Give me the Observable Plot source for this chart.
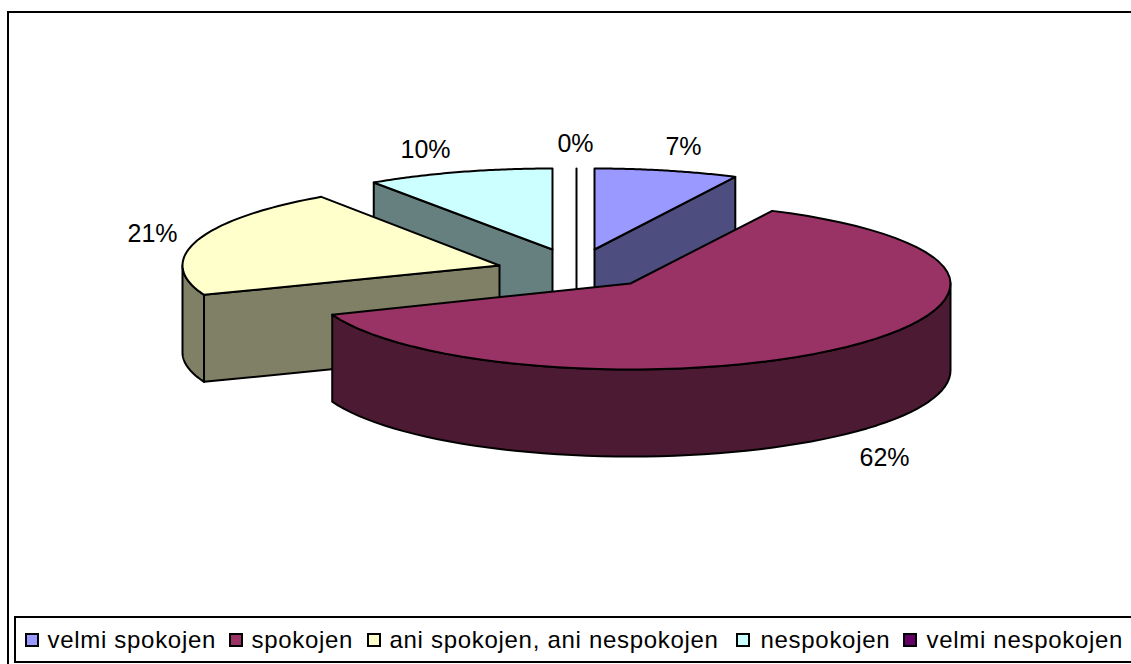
<!DOCTYPE html>
<html><head><meta charset="utf-8">
<script src="https://cdn.jsdelivr.net/npm/d3@7"></script>
<script src="https://cdn.jsdelivr.net/npm/@observablehq/plot@0.6"></script>
<style>
html,body{margin:0;padding:0;background:#fff;overflow:hidden}
svg{display:block}
</style></head><body>
<div id="chart"></div>
<script>
const categories = ["velmi spokojen","spokojen","ani spokojen, ani nespokojen","nespokojen","velmi nespokojen"];
const values = [7.3,61.8,21.4,9.5,0];
const topColors = ["#9999FF","#993366","#FFFFCC","#CCFFFF","#660066"];
const sideColors = ["#4D4D80","#4D1A33","#808066","#668080","#330033"];

// layout of the drawing, in picture pixels
const centers = [[594,249],[630,283],[499,265],[552,249],[576,249]];
const rx = [318,320,317,318,318], ryBack = [81,81,83,81,81], ryFront = [81,86,81,81,81], depth = 87;
const labelAt = [[683,146],[884,457],[152,233],[425,149],[575,143]];
const swatchX = [26,230,368,737,904];
const legendTextX = [47,251,389,760,926];

const total = d3.sum(values);
let acc = 0;
const spans = values.map(v => { const a0 = acc; acc += v / total * 360; return [a0, acc]; });
const pt = (i, deg, dy = 0) => {
  const t = deg * Math.PI / 180, c = Math.cos(t);
  const [cx, cy] = centers[i];
  return {x: cx + rx[i] * Math.sin(t), y: cy - (c > 0 ? ryBack[i] : ryFront[i]) * c + dy};
};
const arc = (i, a0, a1, dy = 0) => d3.range(0, 61).map(k => pt(i, a0 + (a1 - a0) * k / 60, dy));
const apex = (i, dy = 0) => ({x: centers[i][0], y: centers[i][1] + dy});
const close = p => [...p, p[0]];
const topFace = i => close([apex(i), ...arc(i, spans[i][0], spans[i][1])]);
const cutFace = (i, deg) => close([apex(i), pt(i, deg), pt(i, deg, depth), apex(i, depth)]);
const wall = (i, a0, a1) => close([...arc(i, a0, a1), ...arc(i, a0, a1, depth).reverse()]);

const face = (points, fill) => Plot.line(points, {x: "x", y: "y", fill, stroke: "#000", strokeWidth: 2, strokeLinejoin: "round"});

const [small, main, third, fourth, zero] = [0, 1, 2, 3, 4];
const marks = [
  // outer frame and legend box
  Plot.rect([{x1: 8, x2: 1140, y1: 12, y2: 680}], {x1: "x1", x2: "x2", y1: "y1", y2: "y2", fill: "#fff", stroke: "#000", strokeWidth: 2}),
  Plot.rect([{x1: 15, x2: 1140, y1: 617, y2: 662}], {x1: "x1", x2: "x2", y1: "y1", y2: "y2", fill: "#fff", stroke: "#000", strokeWidth: 2}),
  // zero slice is a bare radius
  face([pt(zero, 360), apex(zero), apex(zero, depth)], "none"),
  face(cutFace(small, spans[small][1]), sideColors[small]),
  face(topFace(small), topColors[small]),
  face(cutFace(fourth, spans[fourth][0]), sideColors[fourth]),
  face(topFace(fourth), topColors[fourth]),
  face(wall(third, spans[third][0], 270), sideColors[third]),
  face(cutFace(third, spans[third][0]), sideColors[third]),
  face(topFace(third), topColors[third]),
  face(wall(main, 90, spans[main][1]), sideColors[main]),
  face(topFace(main), topColors[main]),
  // percentage labels
  Plot.text(values.map((v, i) => ({v, i})), {
    x: d => labelAt[d.i][0], y: d => labelAt[d.i][1],
    text: d => `${Math.round(d.v)}%`,
    fontSize: 25, fontFamily: "Liberation Sans", fill: "#000", textAnchor: "middle", lineAnchor: "middle"
  }),
  // legend
  Plot.rect(categories.map((c, i) => ({c, i})), {
    x1: d => swatchX[d.i], x2: d => swatchX[d.i] + 12, y1: 634, y2: 646,
    fill: d => topColors[d.i], stroke: "#000", strokeWidth: 2
  }),
  Plot.text(categories.map((c, i) => ({c, i})), {
    x: d => legendTextX[d.i], y: 640, text: "c",
    fontSize: 24, fontFamily: "Liberation Sans", fill: "#000", textAnchor: "start", lineAnchor: "middle"
  })
];

const chart = Plot.plot({
  width: 1131, height: 664,
  marginTop: 0, marginRight: 0, marginBottom: 0, marginLeft: 0,
  x: {domain: [0, 1131], range: [0, 1131], axis: null},
  y: {domain: [0, 664], range: [0, 664], axis: null},
  marks
});
chart.querySelectorAll("text").forEach(t => {
  if (categories.includes(t.textContent)) t.style.letterSpacing = "0.7px";
});
document.getElementById("chart").append(chart);
</script>
</body></html>
